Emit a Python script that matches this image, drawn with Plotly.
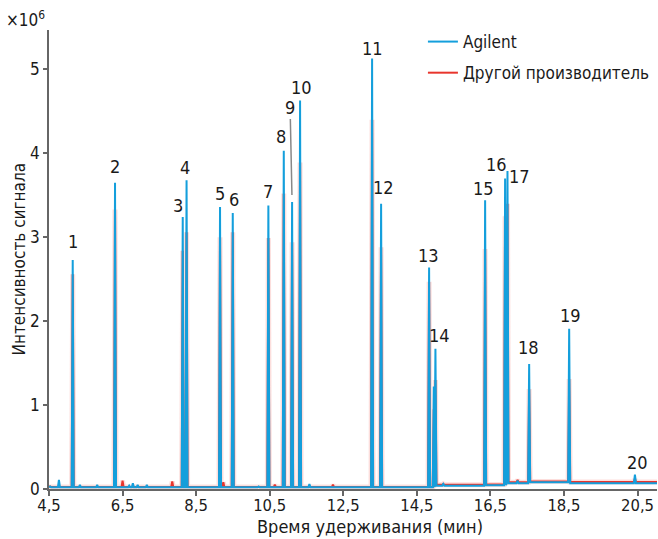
import plotly.graph_objects as go

# ---------------- data ----------------
# retention times of the numbered peaks (min)
peak_times = [5.145, 6.295, 8.136, 8.24, 9.15, 9.496, 10.464, 10.883, 11.109, 11.326,
              13.284, 13.529, 14.834, 15.006, 16.357, 16.90, 16.965, 17.554, 18.642, 20.43]
peak_labels = ["1", "2", "3", "4", "5", "6", "7", "8", "9", "10",
               "11", "12", "13", "14", "15", "16", "17", "18", "19", "20"]
# peak apex intensities (x10^6)
agilent_heights = [2.73, 3.65, 3.24, 3.68, 3.36, 3.29, 3.38, 4.03, 3.42, 4.63,
                   5.13, 3.40, 2.64, 1.67, 3.44, 3.70, 3.79, 1.49, 1.91, 0.17]
other_heights = [2.56, 3.33, 2.84, 3.06, 3.00, 3.06, 2.99, 3.52, 2.94, 3.89,
                 4.40, 2.88, 2.47, 1.30, 2.86, 3.25, 3.40, 1.19, 1.31, 0.12]

# small unlabelled peaks
agilent_minor_times = [4.53, 4.77, 5.34, 5.81, 6.0, 6.68, 6.78, 6.91, 7.16, 10.2, 11.58, 14.962, 15.22, 17.24]
agilent_minor_heights = [0.03, 0.11, 0.05, 0.05, 0.02, 0.04, 0.07, 0.05, 0.05, 0.03, 0.06, 1.22, 0.06, 0.10]
other_minor_times = [4.53, 6.50, 7.85, 9.24, 10.64, 11.96, 12.22, 14.962, 15.22, 17.24]
other_minor_heights = [0.03, 0.10, 0.09, 0.08, 0.05, 0.03, 0.05, 0.95, 0.06, 0.11]

# baseline levels (x10^6), each valid from its start time on
baseline_times = [4.5, 14.99, 16.35, 16.93, 17.55, 18.64, 21.05]
agilent_baseline = [0.02, 0.04, 0.045, 0.07, 0.08, 0.07, 0.07]
other_baseline = [0.025, 0.05, 0.055, 0.08, 0.088, 0.082, 0.082]

x_tick_vals = [4.5, 6.5, 8.5, 10.5, 12.5, 14.5, 16.5, 18.5, 20.5]
x_tick_text = ["4,5", "6,5", "8,5", "10,5", "12,5", "14,5", "16,5", "18,5", "20,5"]
y_tick_vals = [0, 1, 2, 3, 4, 5]

# ---------------- build the traces ----------------
HW = 0.028  # half width of a peak foot (min)


def base_at(t, levels):
    lvl = levels[0]
    for bt, bv in zip(baseline_times, levels):
        if bt <= t:
            lvl = bv
    return lvl


def build(times, heights, levels):
    pts = sorted(zip(times, heights))
    xs = [baseline_times[0]]
    ys = [levels[0]]
    for t, h in pts:
        xs += [t - HW, t, t + HW]
        ys += [base_at(t - HW, levels), h, base_at(t + HW, levels)]
    xs.append(baseline_times[-1])
    ys.append(levels[-1])
    return xs, ys


ax, ay = build(peak_times + agilent_minor_times, agilent_heights + agilent_minor_heights, agilent_baseline)
ox, oy = build(peak_times + other_minor_times, other_heights + other_minor_heights, other_baseline)

BLUE = "#149fdc"
RED = "#e8352d"
FONT = "DejaVu Sans Condensed, Liberation Sans Narrow, DejaVu Sans, sans-serif"
TXT = "#1a1a1a"

fig = go.Figure()
fig.add_trace(go.Scatter(x=ox, y=oy, mode="lines", line=dict(color="rgba(240,90,80,0.20)", width=5),
                         hoverinfo="skip", showlegend=False, legendgroup="b"))
fig.add_trace(go.Scatter(x=ox, y=oy, mode="lines", line=dict(color=RED, width=2),
                         name="Другой производитель", legendgroup="b", legendrank=2))
fig.add_trace(go.Scatter(x=ax, y=ay, mode="lines", line=dict(color=BLUE, width=2),
                         name="Agilent", legendgroup="a", legendrank=1))

# peak labels
label_offsets = {  # (xshift, yshift) in px
    "1": (0, 18), "2": (0, 16), "3": (-5, 12), "4": (-2, 13), "5": (0, 14), "6": (1, 13),
    "7": (0, 14), "8": (-3, 14), "10": (1, 13), "11": (0, 10), "12": (2, 16),
    "13": (-1, 12), "14": (4, 13), "15": (-2, 12), "16": (-9, 14), "17": (12, -6),
    "18": (-1, 16), "19": (1, 13), "20": (3, 12),
}
for t, h, lab in zip(peak_times, agilent_heights, peak_labels):
    if lab == "9":
        fig.add_annotation(x=t, y=h, text=lab, showarrow=True, arrowhead=0, arrowwidth=1.5,
                           arrowcolor="#888888", ax=-2, ay=-95, standoff=7,
                           font=dict(size=18, color=TXT, family=FONT))
    else:
        xs_, ys_ = label_offsets[lab]
        fig.add_annotation(x=t, y=h, text=lab, showarrow=False, xshift=xs_, yshift=ys_,
                           yanchor="middle", font=dict(size=18, color=TXT, family=FONT))

# multiplier and axis titles
fig.add_annotation(x=0, y=1, xref="paper", yref="paper", xanchor="right", yanchor="bottom",
                   xshift=-2, yshift=-2, text="×10<sup>6</sup>", showarrow=False,
                   font=dict(size=17, color=TXT, family=FONT))
fig.add_annotation(x=(370 - 49) / 608, y=0, xref="paper", yref="paper", xanchor="center",
                   yanchor="middle", yshift=-37, text="Время удерживания (мин)", showarrow=False,
                   font=dict(size=18, color=TXT, family=FONT))
fig.add_annotation(x=0, y=0.5, xref="paper", yref="paper", xanchor="center", yanchor="middle",
                   xshift=-31, textangle=-90, text="Интенсивность сигнала", showarrow=False,
                   font=dict(size=17, color=TXT, family=FONT))

fig.update_layout(
    width=658, height=539,
    margin=dict(l=49, r=1, t=30, b=50),
    paper_bgcolor="white", plot_bgcolor="white",
    font=dict(family=FONT, size=17, color=TXT),
    showlegend=True,
    legend=dict(x=0.615, y=1.013, xanchor="left", yanchor="top", traceorder="grouped",
                tracegroupgap=6, font=dict(size=17, family=FONT, color=TXT),
                bgcolor="rgba(0,0,0,0)"),
    xaxis=dict(range=[4.5, 21.03], tickvals=x_tick_vals, ticktext=x_tick_text, automargin=False,
               showgrid=False, zeroline=False, showline=True, linecolor="#666666", linewidth=1.5,
               ticks="outside", ticklen=5, tickwidth=1.5, tickcolor="#666666", ticklabelstandoff=-5,
               tickfont=dict(size=16.5, family=FONT, color=TXT)),
    yaxis=dict(range=[0, 5.47], tickvals=y_tick_vals, showgrid=False, zeroline=False, automargin=False,
               showline=True, linecolor="#666666", linewidth=1.5,
               ticks="outside", ticklen=4, tickwidth=1.5, tickcolor="#666666",
               tickfont=dict(size=17, family=FONT, color=TXT)),
)

fig.write_html("out.html", config={"displayModeBar": False},
               post_script="document.body.style.margin='0';document.body.style.padding='0';")
